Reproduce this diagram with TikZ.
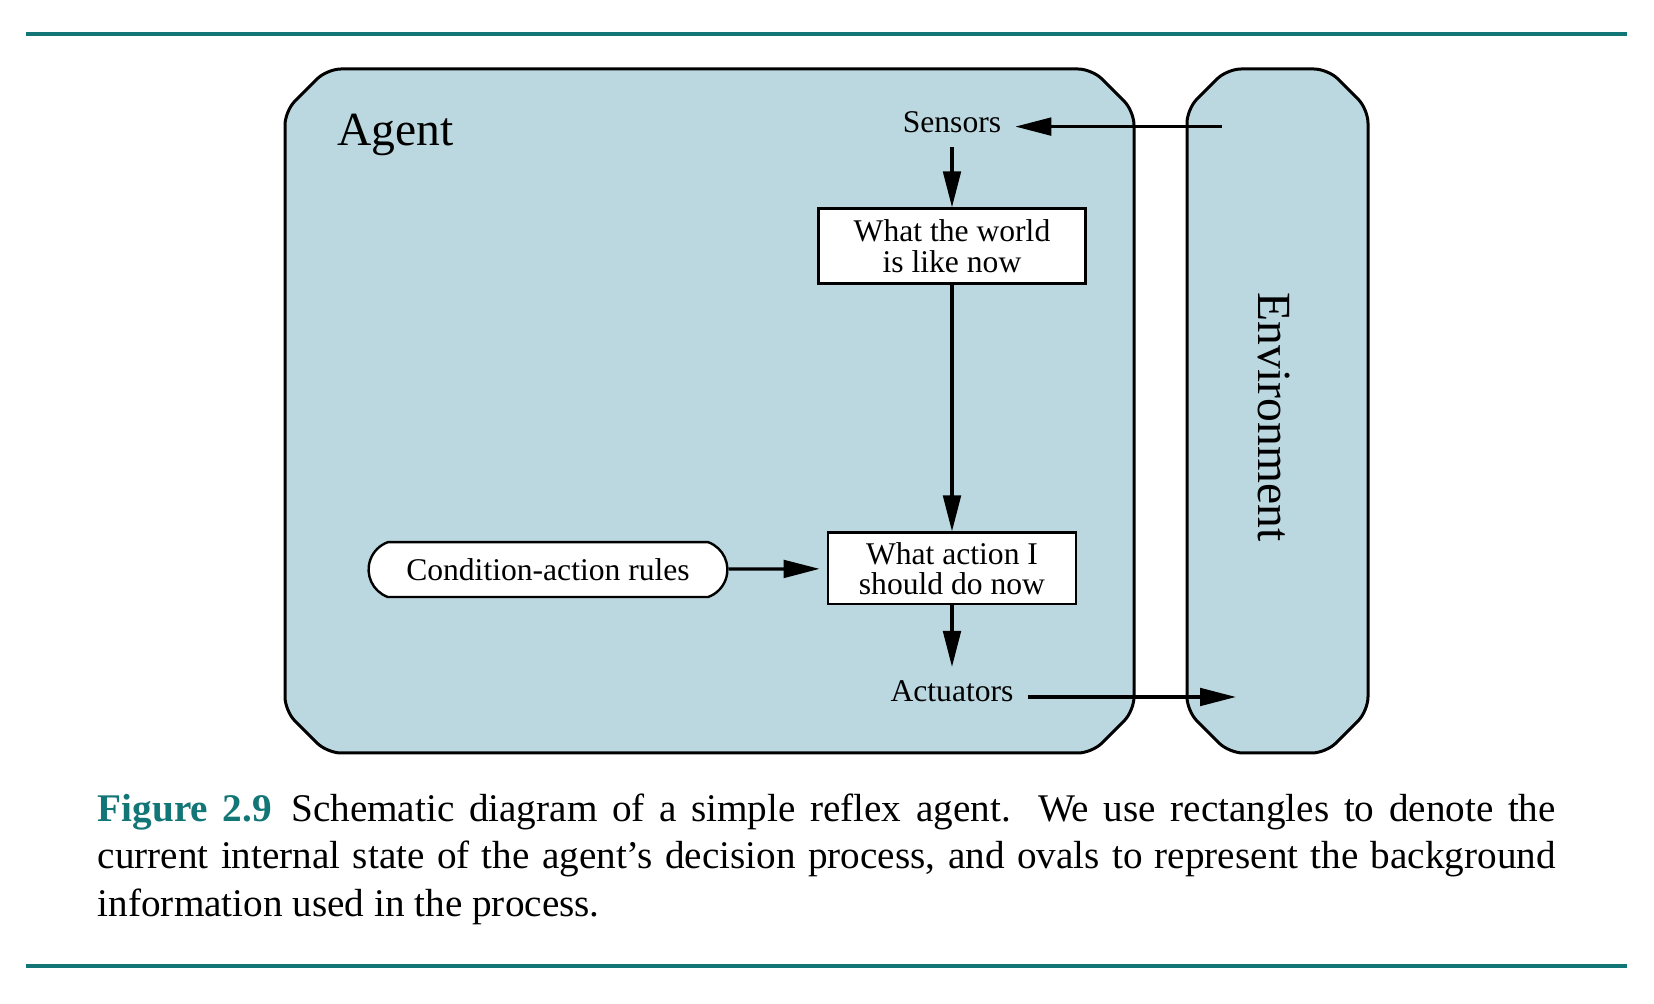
\documentclass[tikz,border=0pt]{standalone}
\usepackage{fontspec}
\setmainfont{Liberation Serif}
\usepackage{xcolor}
\usetikzlibrary{arrows.meta,shapes.misc,positioning}

\definecolor{envblue}{HTML}{BBD8E0}
\definecolor{bookteal}{HTML}{137676}

\begin{document}
\begin{tikzpicture}[x=0.25pt, y=-0.25pt,
  frame/.style={draw, line width=0.75pt, fill=envblue, rounded corners=3.5pt},
  state/.style={draw, fill=white, line width=0.6pt, align=center, inner sep=0pt,
    font=\fontsize{7.9}{7.6}\selectfont},
  rulebox/.style={draw, fill=white, line width=0.6pt, rounded rectangle,
    rounded rectangle arc length=140, inner xsep=2pt,
    font=\fontsize{7.9}{9.5}\selectfont},
  lbl/.style={font=\fontsize{7.9}{9.5}\selectfont},
  big/.style={font=\fontsize{11.9}{14}\selectfont},
  flow/.style={-{Triangle[length=9pt,width=4.4pt]}, line width=0.8pt}
]
\useasboundingbox (0,0) rectangle (1654,1004);

% rules above and below
\fill[bookteal] (26,32) rectangle (1627,36.5);
\fill[bookteal] (26,964) rectangle (1627,968.5);

% agent and environment
\draw[frame] (285,400) -- (285,111) -- (327,69) -- (1092,69) -- (1134,111)
  -- (1134,711) -- (1092,753) -- (327,753) -- (285,711) -- cycle;
\draw[frame] (1187,400) -- (1187,109) -- (1227,69) -- (1328,69) -- (1368,109)
  -- (1368,711) -- (1326,753) -- (1229,753) -- (1187,711) -- cycle;

\node[big, anchor=base] (agent) at (395.5,146) {Agent};
\node[big, rotate=-90] (env) at (1274,417) {Environment};

\node[lbl, anchor=base] (sensors) at (952,133) {Sensors};
\node[state, minimum width=66.7pt, minimum height=18.7pt] (world) at (952,246) {What the world\\is like now};
\node[state, minimum width=62pt, minimum height=17.9pt] (action) at (952,568.5) {What action I\\should do now};
\node[rulebox, minimum width=93.7pt, minimum height=13.7pt] (rules) at (548,569.6) {Condition-action rules};
\node[lbl, anchor=base] (actuators) at (952,702) {Actuators};

\coordinate (envin) at (1221.5,126.6);
\coordinate (envout) at (1236,697);

\draw[flow] (envin) -- (sensors.east |- envin);
\draw[flow] (sensors) -- (world);
\draw[flow] (world) -- (action);
\draw[flow, shorten >=1.8pt] (rules) -- (action);
\draw[flow] (action) -- (actuators);
\draw[flow] (actuators.east |- envout) -- (envout);

% caption
\node[anchor=north west, text width=364.5pt, align=justify, inner sep=0pt,
  font=\fontsize{9.8}{11.9}\selectfont] (caption) at (97,793)
  {\textcolor{bookteal}{\textbf{Figure 2.9}}\enspace Schematic diagram of a simple reflex agent.  We use rectangles to denote the\linebreak
  current internal state of the agent's decision process, and ovals to represent the background\linebreak
  information used in the process.};
\end{tikzpicture}
\end{document}
